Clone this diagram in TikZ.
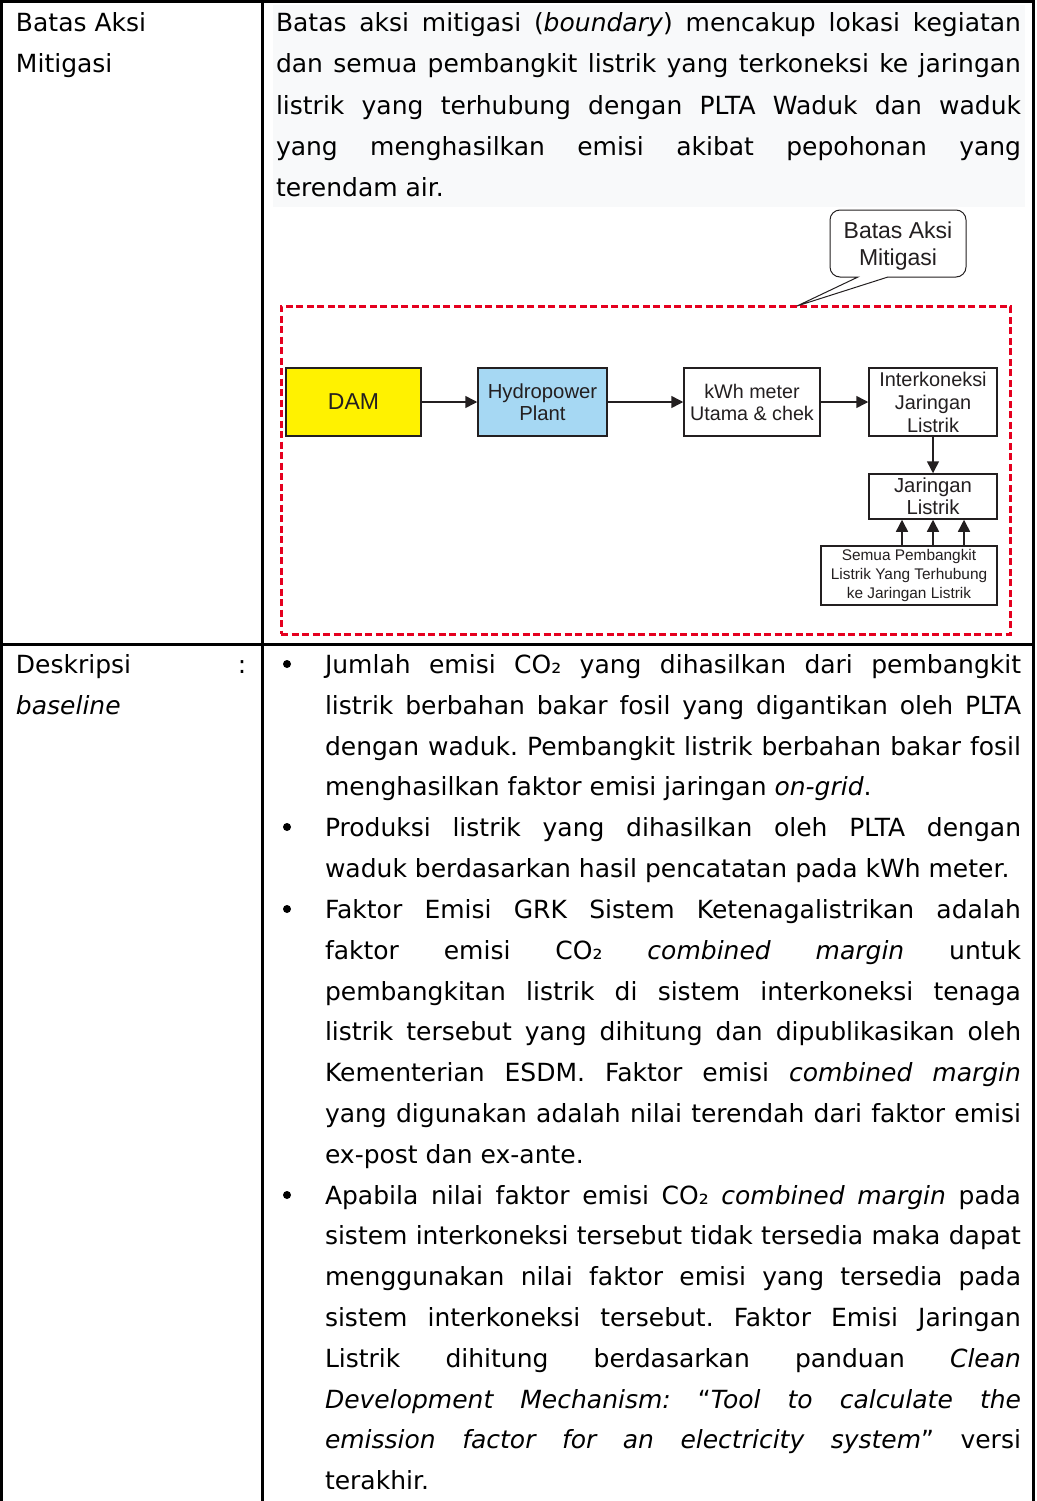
\documentclass[tikz,border=0pt]{standalone}
\usepackage{fontspec}
\setmainfont{DejaVu Sans}
\newfontfamily\diag{Liberation Sans}
\usetikzlibrary{arrows.meta}
\definecolor{boxline}{HTML}{231F20}
\definecolor{damyellow}{HTML}{FFF200}
\definecolor{hydroblue}{HTML}{A6D8F3}
\definecolor{bndred}{HTML}{E5001F}
\definecolor{paragraphgray}{HTML}{F8F9FA}
\newcommand{\JL}[5]{\node[txt] (#1) at (#2,#3) {\makebox[#4pt][s]{#5}};}
\newcommand{\NL}[4]{\node[txt] (#1) at (#2,#3) {#4};}
\frenchspacing
\begin{document}
\begin{tikzpicture}[x=1pt,y=-1pt,
  txt/.style={anchor=base west, inner sep=0pt, outer sep=0pt, font=\fontsize{25}{30}\selectfont\frenchspacing},
  tbl/.style={line width=3pt, black},
  dbox/.style={draw=boxline, line width=1.5pt, inner sep=0pt, align=center, text=boxline},
  arr/.style={-{Triangle[length=12pt,width=12pt]}, line width=1.5pt, draw=boxline},
  bullet/.style={circle, fill=black, inner sep=0pt, minimum size=8pt}]
\useasboundingbox (0,0) rectangle (1036,1501);
% shaded paragraph background
\fill[paragraphgray] (273,5) rectangle (1025,207);
% table rules
\draw[tbl] (0,1.5) -- (1034.5,1.5);
\draw[tbl] (1.5,0) -- (1.5,1501);
\draw[tbl] (262,0) -- (262,1501);
\draw[tbl] (1033,0) -- (1033,1501);
\draw[tbl] (0,644.5) -- (1034.5,644.5);
% left column
\NL{la1}{16}{32}{Batas Aksi}
\NL{la2}{16}{73}{Mitigasi}
\NL{lb1}{16}{673}{Deskripsi}
\node[txt, anchor=base] (lbc) at (242,673) {:};
\NL{lb2}{16}{714}{\textit{baseline}}
% top paragraph
\JL{p1}{276}{32}{745}{Batas aksi mitigasi (\textit{boundary}) mencakup lokasi kegiatan}
\JL{p2}{276}{73}{745}{dan semua pembangkit listrik yang terkoneksi ke jaringan}
\JL{p3}{276}{114}{745}{listrik yang terhubung dengan PLTA Waduk dan waduk}
\JL{p4}{276}{155}{745}{yang menghasilkan emisi akibat pepohonan yang}
\NL{p5}{276}{196}{terendam air.}
% diagram
\node[draw=bndred, line width=3pt, dash pattern=on 7pt off 3.5pt, minimum width=729pt, minimum height=328pt, inner sep=0pt] (bnd) at (645.5,470) {};
\node[dbox, fill=damyellow, minimum width=135pt, minimum height=68pt, font=\diag\fontsize{23}{26}\selectfont] (dam) at (353.5,402) {DAM};
\node[dbox, fill=hydroblue, minimum width=129pt, minimum height=68pt, font=\diag\fontsize{20.3}{22}\selectfont] (hydro) at (542.5,402) {Hydropower\\Plant};
\node[dbox, fill=white, minimum width=136pt, minimum height=68pt, font=\diag\fontsize{19.7}{22}\selectfont] (kwh) at (752,402) {kWh meter\\Utama \& chek};
\node[dbox, fill=white, minimum width=128pt, minimum height=68pt, font=\diag\fontsize{19.9}{23}\selectfont] (inter) at (933,402) {Interkoneksi\\Jaringan\\Listrik};
\node[dbox, fill=white, minimum width=128pt, minimum height=45pt, font=\diag\fontsize{20.3}{22}\selectfont] (jar) at (933,496.5) {Jaringan\\Listrik};
\node[dbox, fill=white, minimum width=176pt, minimum height=59pt, font=\diag\fontsize{15.4}{19}\selectfont] (semua) at (909,575.5) {Semua Pembangkit\\Listrik Yang Terhubung\\ke Jaringan Listrik};
\draw[arr] (dam) -- (hydro);
\draw[arr] (hydro) -- (kwh);
\draw[arr] (kwh) -- (inter);
\draw[arr] (inter) -- (jar);
\coordinate (u1) at (902,0);
\coordinate (u2) at (933,0);
\coordinate (u3) at (964,0);
\draw[arr] (semua.north -| u1) -- (jar.south -| u1);
\draw[arr] (semua.north -| u2) -- (jar.south -| u2);
\draw[arr] (semua.north -| u3) -- (jar.south -| u3);
% callout
\coordinate (tip) at (797,306);
\draw[line width=1pt, boxline, fill=white] (858,277) -- (tip) -- (888,277) [rounded corners=10pt] -- (966,277) -- (966,210) -- (830,210) -- (830,277) [sharp corners] -- cycle;
\node[align=center, inner sep=0pt, text=boxline, font=\diag\fontsize{23}{27}\selectfont] (call) at (898,246.5) {Batas Aksi\\Mitigasi};
% bullets
\node[bullet] (b1) at (287,664) {};
\node[bullet] (b2) at (287,827) {};
\node[bullet] (b3) at (287,909) {};
\node[bullet] (b4) at (287,1195) {};
% bullet text
\JL{k0}{325}{673}{696}{Jumlah emisi CO₂ yang dihasilkan dari pembangkit}
\JL{k1}{325}{714}{696}{listrik berbahan bakar fosil yang digantikan oleh PLTA}
\JL{k2}{325}{755}{696}{dengan waduk. Pembangkit listrik berbahan bakar fosil}
\NL{k3}{325}{795}{menghasilkan faktor emisi jaringan \textit{on-grid}.}
\JL{k4}{325}{836}{696}{Produksi listrik yang dihasilkan oleh PLTA dengan}
\NL{k5}{325}{877}{waduk berdasarkan hasil pencatatan pada kWh meter.}
\JL{k6}{325}{918}{696}{Faktor Emisi GRK Sistem Ketenagalistrikan adalah}
\JL{k7}{325}{959}{696}{faktor emisi CO₂ \textit{combined margin} untuk}
\JL{k8}{325}{1000}{696}{pembangkitan listrik di sistem interkoneksi tenaga}
\JL{k9}{325}{1040}{696}{listrik tersebut yang dihitung dan dipublikasikan oleh}
\JL{k10}{325}{1081}{696}{Kementerian ESDM. Faktor emisi \textit{combined margin}}
\JL{k11}{325}{1122}{696}{yang digunakan adalah nilai terendah dari faktor emisi}
\NL{k12}{325}{1163}{ex-post dan ex-ante.}
\JL{k13}{325}{1204}{696}{Apabila nilai faktor emisi CO₂ \textit{combined margin} pada}
\JL{k14}{325}{1244}{696}{sistem interkoneksi tersebut tidak tersedia maka dapat}
\JL{k15}{325}{1285}{696}{menggunakan nilai faktor emisi yang tersedia pada}
\JL{k16}{325}{1326}{696}{sistem interkoneksi tersebut. Faktor Emisi Jaringan}
\JL{k17}{325}{1367}{696}{Listrik dihitung berdasarkan panduan \textit{Clean}}
\JL{k18}{325}{1408}{696}{\textit{Development Mechanism:} “\textit{Tool to calculate the}}
\JL{k19}{325}{1448}{696}{\textit{emission factor for an electricity system}” versi}
\NL{k20}{325}{1489}{terakhir.}
\end{tikzpicture}
\end{document}
